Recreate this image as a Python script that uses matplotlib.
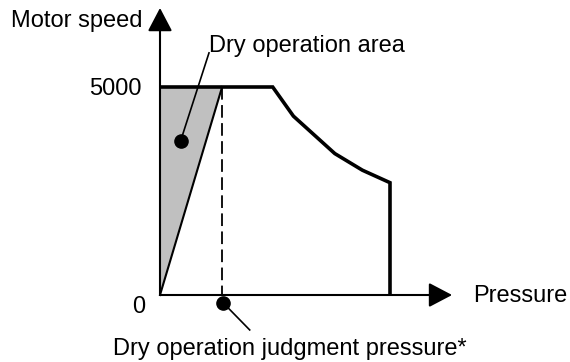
import matplotlib
matplotlib.use("Agg")
import matplotlib.pyplot as plt
from matplotlib.patches import Polygon

plt.rcParams['font.family'] = ['Liberation Sans', 'DejaVu Sans']

# motor speed limit curve (pressure in % of max pressure, speed in rpm)
pressure = [0, 49, 58, 76, 88, 100, 100]
speed = [5000, 5000, 4300, 3400, 3000, 2700, 0]

max_speed = 5000
judge_pressure = 27      # dry operation judgment pressure
y_ticks = [0, 5000]
y_tick_labels = ['0', '5000']

x_axis_end = 127
y_axis_end = 6900

fig = plt.figure(figsize=(5.7, 3.62), dpi=100)
ax = fig.add_axes([0, 0, 1, 1])
ax.set_xlim(-160 / 2.3, 410 / 2.3)
ax.set_ylim(-67 * 5000 / 208, 5000 + 87 * 5000 / 208)
ax.axis('off')

fs = 17

# shaded dry operation area
tri = Polygon([(0, 0), (0, max_speed), (judge_pressure, max_speed)],
              closed=True, facecolor='#c0c0c0', edgecolor='none', zorder=1)
ax.add_patch(tri)
ax.plot([0, judge_pressure], [0, max_speed], color='k', lw=1.5, zorder=2)

# judgment pressure marker line
ax.plot([judge_pressure, judge_pressure], [max_speed, 0], color='k', lw=1.3,
        dashes=[7, 3], zorder=2)

# speed limit curve
ax.plot(pressure, speed, color='k', lw=2.6, solid_joinstyle='miter',
        solid_capstyle='butt', zorder=3)

# axes with arrow heads
arrow = dict(arrowstyle='-|>,head_length=0.8,head_width=0.42', mutation_scale=18,
             lw=1.5, color='k', shrinkA=0, shrinkB=0)
ax.annotate('', xy=(0, y_axis_end), xytext=(0, 0), arrowprops=arrow, zorder=4)
ax.annotate('', xy=(x_axis_end, 0), xytext=(0, 0), arrowprops=arrow, zorder=4)

# tick labels, baselines a little below each level
label_offset = {0: -430, 5000: -190}
for t, lab in zip(y_ticks, y_tick_labels):
    ax.text(-8 if t else -6.5, t + label_offset[t], lab, ha='right',
            va='baseline', fontsize=fs)

ax.text(-65, 6440, 'Motor speed', ha='left', va='baseline', fontsize=fs)
ax.text(x_axis_end + 9, -30, 'Pressure', ha='left', va='center', fontsize=fs)

# callout: dry operation area
ax.plot([9, 21.3], [3710, 5820], color='k', lw=1.2, zorder=5)
ax.plot(9, 3710, 'o', color='k', ms=9.5, zorder=5)
ax.text(21.5, 5850, 'Dry operation area', ha='left', va='baseline', fontsize=fs)

# callout: dry operation judgment pressure
ax.plot([judge_pressure + 0.5, 39], [-190, -840], color='k', lw=1.2, zorder=5)
ax.plot(judge_pressure + 0.5, -190, 'o', color='k', ms=9.5, zorder=5)
ax.text(-20.5, -1440, 'Dry operation judgment pressure*', ha='left',
        va='baseline', fontsize=fs)

fig.savefig('out.png', dpi=100)
